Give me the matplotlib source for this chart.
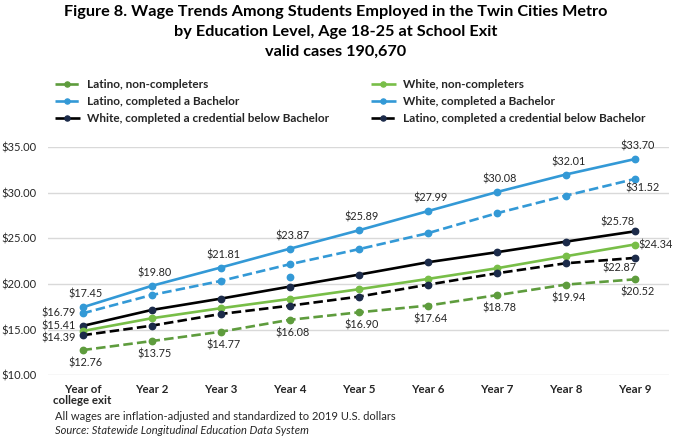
import matplotlib
matplotlib.use("Agg")
import matplotlib.pyplot as plt

plt.rcParams['font.family'] = ['Lato', 'DejaVu Sans']

# ---------------- data ----------------
categories = ["Year of\ncollege exit", "Year 2", "Year 3", "Year 4", "Year 5",
              "Year 6", "Year 7", "Year 8", "Year 9"]
latino_noncomp = [12.76, 13.75, 14.77, 16.08, 16.90, 17.64, 18.78, 19.94, 20.52]
white_noncomp = [14.85, 16.25, 17.35, 18.37, 19.43, 20.56, 21.73, 23.05, 24.34]
latino_bach = [16.79, 18.80, 20.34, 22.17, 23.82, 25.57, 27.76, 29.69, 31.52]
white_bach = [17.45, 19.80, 21.81, 23.87, 25.89, 27.99, 30.08, 32.01, 33.70]
white_below = [15.41, 17.16, 18.40, 19.72, 21.03, 22.39, 23.49, 24.65, 25.78]
latino_below = [14.39, 15.44, 16.72, 17.63, 18.62, 19.93, 21.18, 22.28, 22.87]
# stray marker visible near Year 4
stray_idx = [3]
stray_val = [20.75]
yticks = [10, 15, 20, 25, 30, 35]

# ---------------- style ----------------
BLUE = "#3399D6"
LGREEN = "#78BE48"
DGREEN = "#5E9C3D"
BLACK = "#000000"
NAVY = "#1C2B4A"
GRID = "#D9D9D9"
TXT = "#262626"
LW = 1.9
DASH = (3.6, 1.6)
MS = 4.6

W, H = 678, 445
fig = plt.figure(figsize=(W / 100, H / 100), dpi=100)
ax_left, ax_right, ax_top, ax_bot = 48, 669, 147.3, 375.3
ax = fig.add_axes([ax_left / W, 1 - ax_bot / H, (ax_right - ax_left) / W,
                   (ax_bot - ax_top) / H])

x = list(range(len(categories)))

series = [
    ("Latino, non-completers", latino_noncomp, DGREEN, DGREEN, True),
    ("Latino, completed a Bachelor", latino_bach, BLUE, BLUE, True),
    ("White, completed a credential below Bachelor", white_below, BLACK, NAVY, False),
    ("White, non-completers", white_noncomp, LGREEN, LGREEN, False),
    ("White, completed a Bachelor", white_bach, BLUE, BLUE, False),
    ("Latino, completed a credential below Bachelor", latino_below, BLACK, NAVY, True),
]

handles = []
for name, vals, col, mcol, dashed in series:
    ln, = ax.plot(x, vals, color=col, lw=LW, marker='o', markersize=MS,
                  markerfacecolor=mcol, markeredgecolor=mcol, label=name,
                  solid_capstyle='butt', zorder=3)
    if dashed:
        ln.set_dashes(DASH)
    handles.append(ln)

ax.plot(stray_idx, stray_val, linestyle='none', marker='o', markersize=MS,
        color=BLUE, zorder=3)

ax.set_xlim(-0.5, len(categories) - 0.5)
ax.set_ylim(10, 35)
ax.set_yticks(yticks)
ax.set_yticklabels([f"${v:.2f}" for v in yticks])
ax.set_xticks(x)
ax.set_xticklabels(categories, fontweight='bold', fontsize=8.3, color=TXT,
                   linespacing=1.05)
ax.tick_params(axis='both', length=0)
ax.tick_params(axis='x', pad=6)
ax.tick_params(axis='y', pad=8, labelsize=8, labelcolor=TXT)
ax.grid(axis='y', color=GRID, lw=1)
ax.set_axisbelow(True)
for s in ax.spines.values():
    s.set_visible(False)
for lab in ax.get_xticklabels():
    lab.set_verticalalignment('top')

# ---------------- data labels ----------------
def lab(i, v, dx, dy, ha='center', va='center'):
    ax.annotate(f"${v:.2f}", (i, v), xytext=(dx, dy), textcoords='offset pixels',
                ha=ha, va=va, fontsize=7.8, color=TXT, zorder=4)

for i, v in enumerate(white_bach):
    lab(i, v, 3, 13)
for i, v in enumerate(latino_noncomp):
    lab(i, v, 3, -13)
last = len(categories) - 1
lab(0, latino_bach[0], -7, 0, ha='right')
lab(last, latino_bach[last], 8, -9)
lab(0, white_below[0], -7, 0, ha='right')
lab(last, white_below[last], -17, 9)
lab(0, latino_below[0], -7, -3, ha='right')
lab(last, latino_below[last], -15, -10)
lab(last, white_noncomp[last], 4, 0, ha='left')

# ---------------- title ----------------
title_lines = ["Figure 8. Wage Trends Among Students Employed in the Twin Cities Metro",
               "by Education Level, Age 18-25 at School Exit",
               "valid cases 190,670"]
for k, t in enumerate(title_lines):
    fig.text(336 / W, 1 - (11.7 + 20 * k) / H, t, ha='center', va='center',
             fontsize=11.7, fontweight='bold', color='black')

# ---------------- legend ----------------
leg_kw = dict(frameon=False, prop={'weight': 'bold', 'size': 8.5},
              handlelength=2.1, handletextpad=0.65, labelspacing=0.5,
              borderpad=0, borderaxespad=0, labelcolor=TXT, markerscale=0.8)
leg1 = fig.legend(handles=handles[:3], loc='upper left',
                  bbox_to_anchor=(55 / W, 1 - 79 / H), **leg_kw)
leg2 = fig.legend(handles=handles[3:], loc='upper left',
                  bbox_to_anchor=(371 / W, 1 - 79 / H), **leg_kw)

# ---------------- notes ----------------
fig.text(55 / W, 1 - 416.7 / H, "All wages are inflation-adjusted and standardized to 2019 U.S. dollars",
         ha='left', va='center', fontsize=8, color=TXT)
fig.text(55 / W, 1 - 431 / H, "Source: Statewide Longitudinal Education Data System",
         ha='left', va='center', fontsize=8, style='italic', color=TXT)

fig.savefig("out.png", dpi=100)
